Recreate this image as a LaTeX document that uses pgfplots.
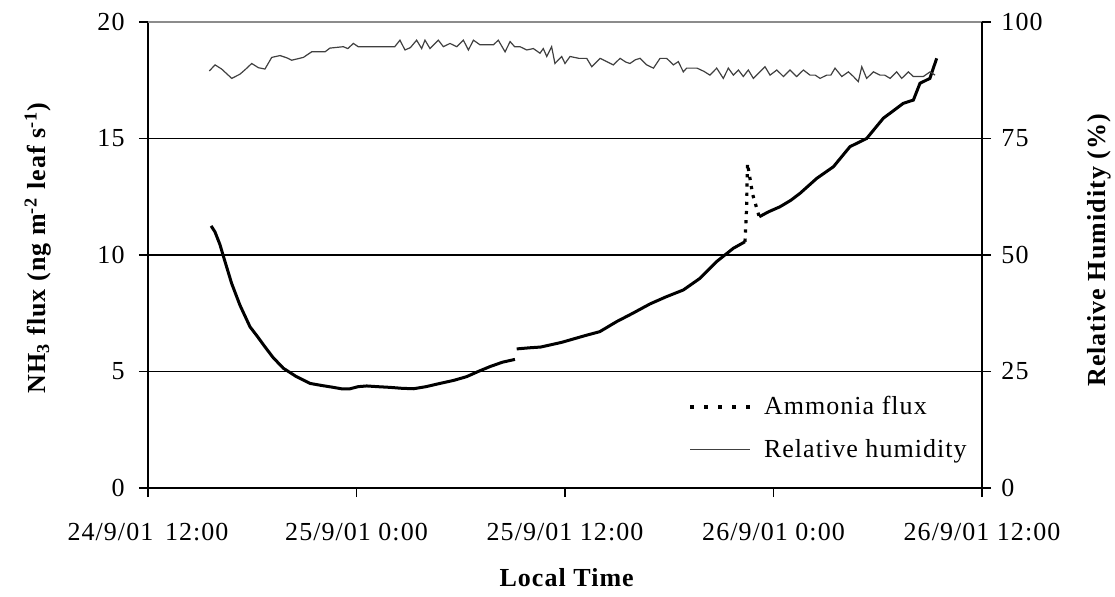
\documentclass[border=0pt]{standalone}
\usepackage{fontspec}
\setmainfont{Liberation Serif}[LetterSpace=4]
\usepackage{pgfplots}
\pgfplotsset{compat=1.18}
\newcommand\chartfont{\fontsize{13}{15.6}\selectfont}

% hours after 24/9/01 12:00
\pgfplotstableread{
h flux
3.63 11.25
3.85 11.0
4.14 10.45
4.33 9.97
4.81 8.79
5.29 7.85
5.87 6.92
6.30 6.50
6.73 6.06
7.20 5.60
7.79 5.14
8.50 4.80
9.32 4.49
10.00 4.40
10.67 4.32
11.20 4.25
11.63 4.26
12.10 4.35
12.59 4.38
13.20 4.35
13.92 4.32
14.60 4.28
15.27 4.26
16.00 4.35
16.81 4.49
17.60 4.62
18.34 4.78
19.00 5.00
19.68 5.21
20.40 5.40
21.12 5.52
21.17 nan
21.22 5.97
22.00 6.02
22.60 6.05
23.14 6.14
23.80 6.25
24.50 6.40
25.20 6.55
26.00 6.71
26.97 7.14
27.90 7.50
28.89 7.90
29.80 8.20
30.81 8.50
31.77 9.00
32.73 9.72
33.69 10.29
34.36 10.57
34.40 nan
35.18 11.64
35.70 11.85
36.37 12.07
37.00 12.35
37.53 12.65
38.49 13.29
39.45 13.79
40.40 14.65
41.36 15.00
42.32 15.87
43.47 16.51
44.05 16.65
44.43 17.37
45.00 17.58
45.39 18.44
}\fluxdata

\pgfplotstableread{
h flux
34.36 10.57
34.45 12.00
34.50 13.93
34.80 12.60
35.18 11.64
}\spikedata

\pgfplotstableread{
h rh
3.53 89.5
3.86 90.8
4.24 89.9
4.82 87.9
5.29 88.8
5.60 89.8
5.97 91.1
6.35 90.2
6.73 89.9
7.12 92.4
7.60 92.8
8.00 92.3
8.27 91.8
8.94 92.4
9.42 93.6
10.19 93.6
10.47 94.4
11.24 94.7
11.50 94.3
11.82 95.4
12.10 94.7
12.78 94.7
13.35 94.7
14.20 94.7
14.50 96.1
14.79 94.0
15.10 94.5
15.46 96.1
15.75 94.3
15.94 96.1
16.23 94.3
16.71 96.1
17.00 94.7
17.38 95.4
17.77 94.7
18.15 96.1
18.44 94.0
18.73 96.1
19.11 95.1
19.88 95.1
20.16 96.1
20.55 93.6
20.84 95.8
21.10 94.7
21.41 94.7
21.80 94.0
22.18 94.3
22.56 93.3
22.75 94.3
22.95 92.6
23.23 94.7
23.42 91.1
23.81 92.6
24.00 91.1
24.29 92.6
24.80 92.2
25.25 92.2
25.54 90.4
26.02 92.2
26.40 91.5
26.78 90.8
27.17 92.2
27.50 91.4
27.74 91.1
28.05 91.9
28.32 92.2
28.70 90.8
29.09 90.1
29.47 92.2
29.85 92.2
30.24 90.8
30.52 91.5
30.81 89.3
31.00 90.1
31.60 90.1
32.00 89.4
32.34 88.6
32.73 90.1
33.11 87.9
33.40 90.1
33.69 88.6
33.98 89.7
34.26 88.3
34.55 89.7
34.84 87.9
35.22 89.3
35.51 90.4
35.80 88.6
36.19 89.7
36.57 88.3
36.95 89.7
37.33 88.3
37.72 89.7
38.10 88.6
38.40 88.6
38.68 87.9
39.06 88.6
39.30 88.6
39.54 90.1
39.93 88.3
40.31 89.3
40.60 88.3
40.88 87.2
41.08 90.4
41.36 87.9
41.75 89.3
42.13 88.6
42.40 88.6
42.71 87.9
43.09 89.3
43.38 87.9
43.76 89.3
44.05 88.3
44.62 88.3
45.01 89.3
45.30 88.6
}\rhdata

\begin{document}
\begin{tikzpicture}
\begin{axis}[
    name=main,
    scale only axis, width=417pt, height=233pt,
    xmin=0, xmax=48, ymin=0, ymax=20,
    axis x line*=bottom, axis y line*=left,
    axis line style={line width=0.9pt, -},
    xtick={0,12,24,36,48},
    xticklabels={24/9/01\hspace{0.45em}12:00, 25/9/01 0:00, 25/9/01 12:00, 26/9/01 0:00, 26/9/01 12:00},
    ytick={0,5,10,15},
    extra y ticks={20},
    extra y tick style={major grid style={black!45, line width=0.6pt}},
    ymajorgrids,
    major grid style={black, line width=0.8pt},
    tick align=outside, major tick length=4.5pt,
    tick style={black, line width=0.8pt},
    ticklabel style={font=\chartfont},
    /pgf/number format/assume math mode=true,
    xticklabel style={yshift=-9.5pt},
    yticklabel style={xshift=-3.7pt},
    xlabel={\bfseries Local Time},
    xlabel style={font=\chartfont, at={(axis description cs:0.502,-0.193)}, anchor=center},
    ylabel={\bfseries NH\textsubscript{3} flux (ng m\textsuperscript{-2} leaf s\textsuperscript{-1})},
    ylabel style={font=\chartfont, at={(axis description cs:-0.132,0.515)}, anchor=center},
    unbounded coords=jump,
]
\addplot[black, line width=1.5pt] table[x=h, y=flux] {\fluxdata};
\addplot[black, line width=1.6pt, dash pattern=on 1.6pt off 3pt] table[x=h, y=flux] {\spikedata};
\end{axis}
\begin{axis}[
    scale only axis, width=417pt, height=233pt,
    xmin=0, xmax=48, ymin=0, ymax=100,
    axis x line=none, axis y line*=right,
    axis line style={line width=0.9pt, -},
    ytick={0,25,50,75,100},
    tick align=outside, major tick length=4.5pt,
    tick style={black, line width=0.8pt},
    ticklabel style={font=\chartfont},
    /pgf/number format/assume math mode=true,
    yticklabel style={xshift=1.7pt},
    ylabel={\bfseries Relative Humidity (\%)},
    ylabel style={font=\chartfont, at={(axis description cs:1.141,0.51)}, anchor=center},
    legend cell align=left,
    legend style={draw=none, fill=none, font=\chartfont, inner sep=0pt,
        at={(axis description cs:0.647,0.207)}, anchor=north west,
        row sep=7pt,
        /tikz/every odd column/.append style={column sep=4pt}},
    legend image code/.code={\draw[#1] (0pt,0pt) -- (30pt,0pt);},
]
\addlegendimage{black, line width=2pt, dash pattern=on 2pt off 5pt}
\addlegendentry{Ammonia flux}
\addplot[black!75, line width=0.6pt] table[x=h, y=rh] {\rhdata};
\addlegendentry{Relative humidity}
\end{axis}
\pgfresetboundingbox
\path[use as bounding box] ([xshift=-74pt,yshift=-54pt]main.south west) rectangle ([xshift=66.5pt,yshift=11pt]main.north east);
\end{tikzpicture}
\end{document}
